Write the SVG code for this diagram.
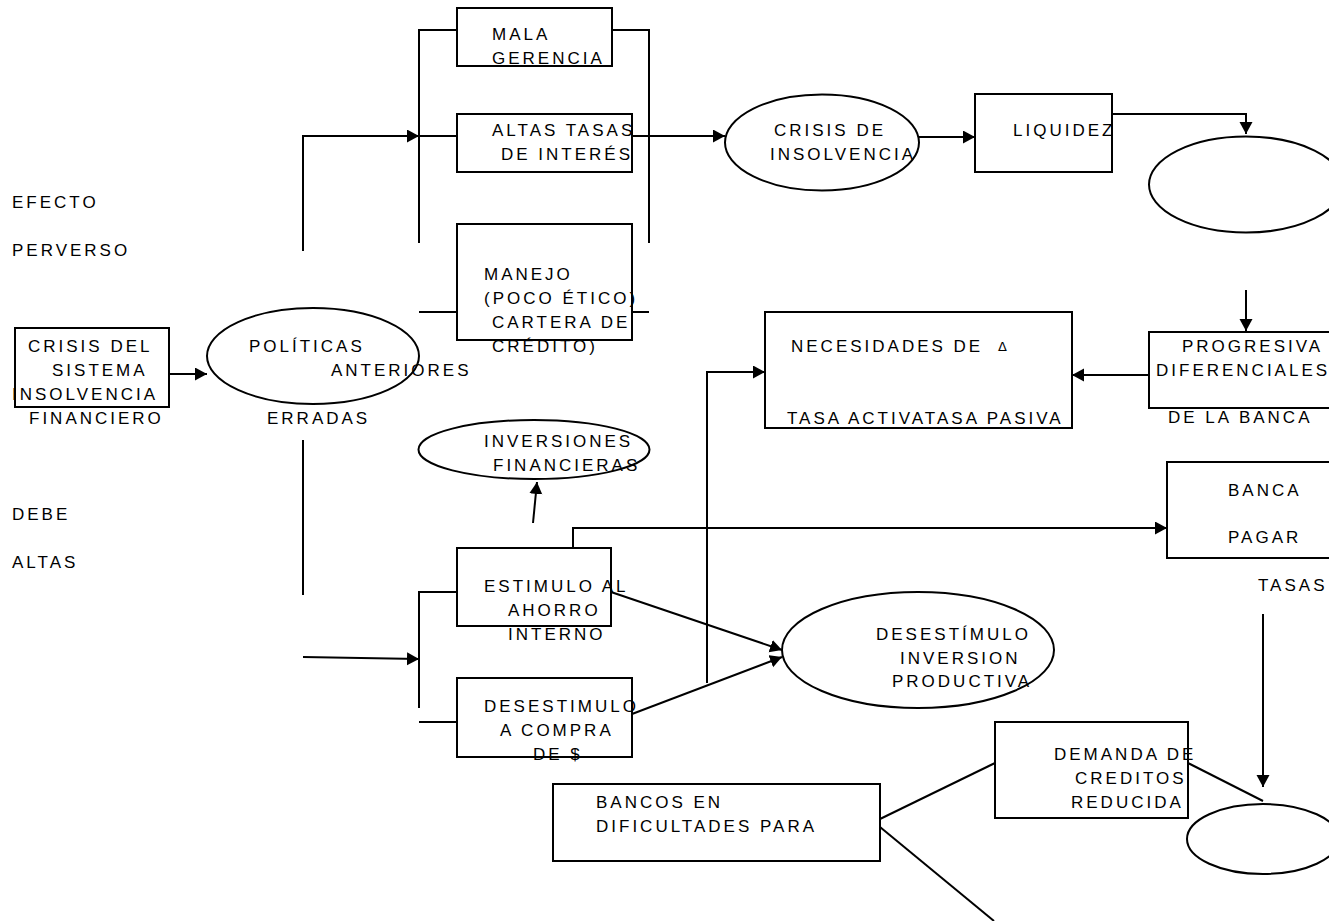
<svg xmlns="http://www.w3.org/2000/svg" width="1329" height="921" viewBox="0 0 1329 921">
<style>
  text { font-family: "Liberation Sans", Arial, sans-serif; font-size: 17px; letter-spacing: 3px; fill: #000; }
  .shape { fill: #fff; stroke: #000; stroke-width: 2; }
  .line { fill: none; stroke: #000; stroke-width: 2; }
  .delta { font-family: "DejaVu Sans", sans-serif; font-size: 13px; letter-spacing: 0; }
</style>
<defs>
  <marker id="arrow" markerUnits="userSpaceOnUse" markerWidth="13" markerHeight="14" refX="12" refY="6.5" orient="auto">
    <path d="M0,0 L12,6.5 L0,13 Z" fill="#000"/>
  </marker>
</defs>
<rect width="1329" height="921" fill="#fff"/>

<g id="connectors">
  <!-- from POLITICAS upward branch -->
  <polyline class="line" points="303,251 303,136 419,136" marker-end="url(#arrow)"/>
  <!-- left bracket top group -->
  <polyline class="line" points="457,30 419,30 419,243"/>
  <line class="line" x1="419" y1="136" x2="457" y2="136"/>
  <line class="line" x1="419" y1="312" x2="457" y2="312"/>
  <!-- right bracket top group -->
  <polyline class="line" points="612,30 649,30 649,243"/>
  <line class="line" x1="632" y1="312" x2="649" y2="312"/>
  <!-- ALTAS TASAS -> CRISIS DE INSOLVENCIA -->
  <line class="line" x1="632" y1="136" x2="725" y2="136" marker-end="url(#arrow)"/>
  <!-- CRISIS DE INSOLVENCIA -> LIQUIDEZ -->
  <line class="line" x1="919" y1="137" x2="975" y2="137" marker-end="url(#arrow)"/>
  <!-- LIQUIDEZ -> top right ellipse -->
  <polyline class="line" points="1108,114 1246,114 1246,134" marker-end="url(#arrow)"/>
  <!-- down to PROGRESIVA -->
  <line class="line" x1="1246" y1="290" x2="1246" y2="331" marker-end="url(#arrow)"/>
  <!-- PROGRESIVA -> NECESIDADES -->
  <line class="line" x1="1149" y1="375" x2="1072" y2="375" marker-end="url(#arrow)"/>
  <!-- CRISIS DEL SISTEMA -> POLITICAS -->
  <line class="line" x1="169" y1="374" x2="207" y2="374" marker-end="url(#arrow)"/>
  <!-- POLITICAS downward -->
  <line class="line" x1="303" y1="440" x2="303" y2="595"/>
  <line class="line" x1="303" y1="657" x2="419" y2="659" marker-end="url(#arrow)"/>
  <!-- lower bracket -->
  <polyline class="line" points="457,592 419,592 419,708"/>
  <line class="line" x1="419" y1="722" x2="457" y2="722"/>
  <!-- ESTIMULO -> INVERSIONES FINANCIERAS -->
  <line class="line" x1="533" y1="523" x2="537" y2="482" marker-end="url(#arrow)"/>
  <!-- ESTIMULO -> BANCA PAGAR -->
  <polyline class="line" points="573,548 573,528 1167,528" marker-end="url(#arrow)"/>
  <!-- vertical to NECESIDADES -->
  <polyline class="line" points="707,683 707,372 765,372" marker-end="url(#arrow)"/>
  <!-- into DESESTIMULO INVERSION -->
  <line class="line" x1="611" y1="592" x2="782" y2="650" marker-end="url(#arrow)"/>
  <line class="line" x1="632" y1="714" x2="782" y2="657" marker-end="url(#arrow)"/>
  <!-- TASAS down to bottom ellipse -->
  <line class="line" x1="1263" y1="614" x2="1263" y2="787" marker-end="url(#arrow)"/>
  <!-- BANCOS lines -->
  <line class="line" x1="880" y1="819" x2="995" y2="763"/>
  <line class="line" x1="880" y1="827" x2="994" y2="921"/>
  <!-- DEMANDA -> bottom ellipse -->
  <line class="line" x1="1188" y1="763" x2="1263" y2="801"/>
</g>

<g id="label-efecto"><text x="12" y="208">EFECTO</text></g>
<g id="label-perverso"><text x="12" y="256">PERVERSO</text></g>
<g id="label-debe"><text x="12" y="520">DEBE</text></g>
<g id="label-altas"><text x="12" y="568">ALTAS</text></g>

<g id="crisis-sistema">
  <rect class="shape" x="15" y="328" width="154" height="79"/>
  <text x="28" y="352">CRISIS DEL</text>
  <text x="52" y="376">SISTEMA</text>
  <text x="12" y="400">INSOLVENCIA</text>
  <text x="29" y="424">FINANCIERO</text>
</g>

<g id="politicas">
  <ellipse class="shape" cx="313" cy="356" rx="106" ry="48"/>
  <text x="249" y="352">POLÍTICAS</text>
  <text x="331" y="376">ANTERIORES</text>
  <text x="267" y="424">ERRADAS</text>
</g>

<g id="mala-gerencia">
  <rect class="shape" x="457" y="8" width="155" height="58"/>
  <text x="492" y="40">MALA</text>
  <text x="492" y="64">GERENCIA</text>
</g>

<g id="altas-tasas">
  <rect class="shape" x="457" y="114" width="175" height="58"/>
  <text x="492" y="136">ALTAS TASAS</text>
  <text x="501" y="160">DE INTERÉS</text>
</g>

<g id="manejo">
  <rect class="shape" x="457" y="224" width="175" height="116"/>
  <text x="484" y="280">MANEJO</text>
  <text x="484" y="304">(POCO ÉTICO)</text>
  <text x="492" y="328">CARTERA DE</text>
  <text x="492" y="352">CRÉDITO)</text>
</g>

<g id="crisis-insolvencia">
  <ellipse class="shape" cx="822" cy="142.5" rx="97" ry="48"/>
  <text x="774" y="136">CRISIS DE</text>
  <text x="770" y="160">INSOLVENCIA</text>
</g>

<g id="liquidez">
  <rect class="shape" x="975" y="94" width="137" height="78"/>
  <text x="1013" y="136">LIQUIDEZ</text>
</g>

<g id="ellipse-top-right">
  <ellipse class="shape" cx="1246" cy="184.5" rx="97" ry="48"/>
</g>

<g id="progresiva">
  <rect class="shape" x="1149" y="332" width="200" height="76"/>
  <text x="1182" y="352">PROGRESIVA</text>
  <text x="1156" y="376">DIFERENCIALES</text>
  <text x="1168" y="423">DE LA BANCA</text>
</g>

<g id="necesidades">
  <rect class="shape" x="765" y="312" width="307" height="116"/>
  <text x="791" y="352">NECESIDADES DE</text>
  <text class="delta" x="998" y="351">Δ</text>
  <text x="787" y="424">TASA ACTIVATASA PASIVA</text>
</g>

<g id="inversiones-financieras">
  <ellipse class="shape" cx="534" cy="449.5" rx="115.5" ry="29.5"/>
  <text x="484" y="447">INVERSIONES</text>
  <text x="493" y="471">FINANCIERAS</text>
</g>

<g id="estimulo">
  <rect class="shape" x="457" y="548" width="154" height="78"/>
  <text x="484" y="592">ESTIMULO AL</text>
  <text x="508" y="616">AHORRO</text>
  <text x="508" y="640">INTERNO</text>
</g>

<g id="desestimulo-compra">
  <rect class="shape" x="457" y="678" width="175" height="79"/>
  <text x="484" y="712">DESESTIMULO</text>
  <text x="500" y="736">A COMPRA</text>
  <text x="533" y="760">DE $</text>
</g>

<g id="banca-pagar">
  <rect class="shape" x="1167" y="462" width="200" height="96"/>
  <text x="1228" y="496">BANCA</text>
  <text x="1228" y="543">PAGAR</text>
  <text x="1258" y="591">TASAS</text>
</g>

<g id="desestimulo-inversion">
  <ellipse class="shape" cx="918" cy="650" rx="136" ry="58"/>
  <text x="876" y="640">DESESTÍMULO</text>
  <text x="900" y="664">INVERSION</text>
  <text x="892" y="687">PRODUCTIVA</text>
</g>

<g id="demanda">
  <rect class="shape" x="995" y="722" width="193" height="96"/>
  <text x="1054" y="760">DEMANDA DE</text>
  <text x="1075" y="784">CREDITOS</text>
  <text x="1071" y="808">REDUCIDA</text>
</g>

<g id="bancos">
  <rect class="shape" x="553" y="784" width="327" height="77"/>
  <text x="596" y="808">BANCOS EN</text>
  <text x="596" y="832">DIFICULTADES PARA</text>
</g>

<g id="ellipse-bottom-right">
  <ellipse class="shape" cx="1263" cy="839" rx="76" ry="35"/>
</g>
</svg>
